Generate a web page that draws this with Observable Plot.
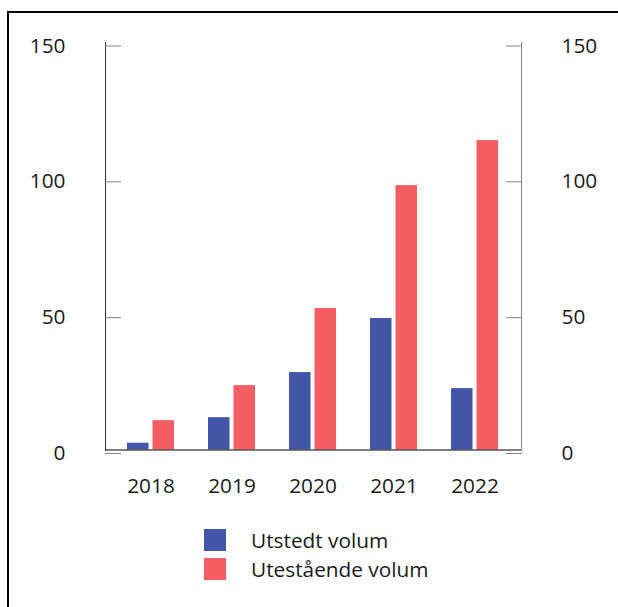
<!DOCTYPE html>
<html>
<head>
<meta charset="utf-8">
<script src="https://cdn.jsdelivr.net/npm/d3@7"></script>
<script src="https://cdn.jsdelivr.net/npm/@observablehq/plot@0.6"></script>
<style>
  html, body { margin: 0; padding: 0; background: #fff; overflow: hidden; }
  body { width: 618px; height: 607px; position: relative; font-family: "Open Sans", sans-serif; }
  #frame { position: absolute; left: 7px; top: 11px; width: 800px; height: 800px; border: 2px solid #000; box-sizing: border-box; }
  #chart { position: absolute; left: 0; top: 0; }
  #legend { position: absolute; left: 204px; top: 529px; }
  .row { display: flex; align-items: center; height: 22px; margin-bottom: 7px; }
  .sw { width: 22px; height: 22px; margin-right: 25px; }
  .lab { font-size: 20.8px; color: #1a1a1a; white-space: nowrap; }
</style>
</head>
<body>
<div id="frame"></div>
<div id="chart"></div>
<div id="legend"></div>
<script>
// Volume per year, billions
const years = ["2018", "2019", "2020", "2021", "2022"];
const issued = [2.5, 11.9, 28.5, 48.4, 22.6];
const outstanding = [10.8, 23.7, 52.1, 97.3, 113.9];
const yTicks = [0, 50, 100, 150];
const seriesNames = ["Utstedt volum", "Utestående volum"];
const seriesColors = ["#4156a7", "#f25e64"];

const rows = years.map((year, i) => ({year, issued: issued[i], outstanding: outstanding[i]}));

const font = "Open Sans";
const fontSize = 20.8;
const textColor = "#1a1a1a";
const barGap = 25.5; // inset that splits each year band into two bars

const chart = Plot.plot({
  width: 618,
  height: 515,
  marginTop: 42,
  marginBottom: 65.5,
  marginLeft: 105,
  marginRight: 97,
  x: {domain: years, paddingInner: 0.419, paddingOuter: 0.255, axis: null, label: null},
  y: {domain: [0, 150], axis: null, label: null},
  marks: [
    Plot.barY(rows, {x: "year", y: "issued", fill: seriesColors[0], insetRight: barGap}),
    Plot.barY(rows, {x: "year", y: "outstanding", fill: seriesColors[1], insetLeft: barGap}),
    Plot.frame({anchor: "left", stroke: "#333"}),
    Plot.frame({anchor: "right", stroke: "#888"}),
    Plot.ruleY([0], {stroke: "#000"}),
    Plot.axisY({anchor: "left", ticks: yTicks, tickSize: -16, tickPadding: 56, stroke: "#808080", label: null,
      fill: textColor, fontSize, fontFamily: font, dy: 3.5, tickFormat: d => String(d)}),
    Plot.axisY({anchor: "right", ticks: yTicks, tickSize: -16, tickPadding: 56, stroke: "#808080", label: null,
      fill: textColor, fontSize, fontFamily: font, dy: 3.5, tickFormat: d => String(d)}),
    Plot.axisX({anchor: "bottom", tickSize: 0, tickPadding: 28, label: null,
      fill: textColor, fontSize, fontFamily: font})
  ]
});
document.getElementById("chart").append(chart);

// Vertical swatch legend below the chart
const legend = d3.select("#legend");
seriesNames.forEach((name, i) => {
  const row = legend.append("div").attr("class", "row");
  row.append("div").attr("class", "sw").style("background", seriesColors[i]);
  row.append("div").attr("class", "lab").text(name);
});
</script>
</body>
</html>
